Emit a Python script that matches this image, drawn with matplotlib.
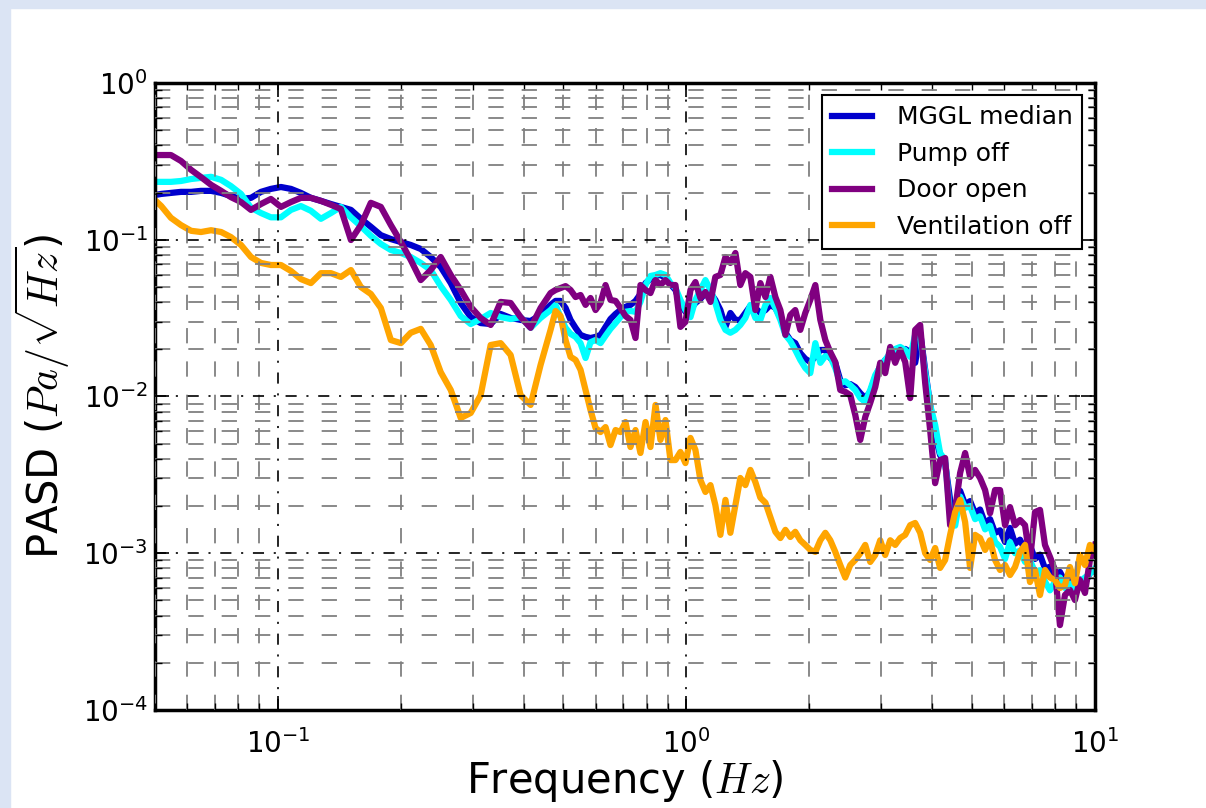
import matplotlib.pyplot as plt
from matplotlib.patches import Rectangle
from matplotlib.ticker import NullFormatter

# frequency bins (Hz)
freq = [0.05, 0.0518, 0.0547, 0.0579, 0.0613, 0.0648, 0.0686, 0.0726, 0.0767, 0.0812,
        0.0859, 0.0909, 0.0961, 0.1017, 0.1076, 0.1138, 0.1204, 0.1274, 0.1348, 0.1426,
        0.1509, 0.1596, 0.1688, 0.1786, 0.1890, 0.2000, 0.2114, 0.2237, 0.2366, 0.2503,
        0.2649, 0.2802, 0.2964, 0.3135, 0.3317, 0.3509, 0.3712, 0.3927, 0.4154, 0.4395,
        0.4649, 0.4782, 0.4918, 0.5060, 0.5203, 0.5353, 0.5505, 0.5663, 0.5823, 0.5991,
        0.6161, 0.6338, 0.6517, 0.6706, 0.6895, 0.7094, 0.7294, 0.7505, 0.7717, 0.7940,
        0.8164, 0.8400, 0.8637, 0.8886, 0.9138, 0.9400, 0.9667, 0.9944, 1.023, 1.052,
        1.082, 1.113, 1.145, 1.177, 1.211, 1.246, 1.281, 1.318, 1.355, 1.394,
        1.434, 1.475, 1.517, 1.561, 1.605, 1.651, 1.698, 1.747, 1.796, 1.847,
        1.900, 1.954, 2.010, 2.068, 2.127, 2.188, 2.250, 2.314, 2.380, 2.448,
        2.518, 2.590, 2.664, 2.740, 2.818, 2.899, 2.981, 3.066, 3.154, 3.244,
        3.336, 3.432, 3.530, 3.630, 3.734, 3.841, 3.950, 4.063, 4.178, 4.298,
        4.421, 4.548, 4.677, 4.811, 4.948, 5.089, 5.234, 5.384, 5.537, 5.695,
        5.858, 6.025, 6.197, 6.374, 6.556, 6.743, 6.935, 7.133, 7.337, 7.546,
        7.762, 7.983, 8.211, 8.445, 8.687, 8.934, 9.190, 9.454, 9.723, 10.0]

# PASD values (Pa/sqrt(Hz))
mggl_median = [0.193, 0.196, 0.199, 0.202, 0.202, 0.205, 0.205, 0.199, 0.190, 0.182,
               0.185, 0.202, 0.211, 0.217, 0.211, 0.199, 0.185, 0.177, 0.169, 0.162,
               0.155, 0.136, 0.121, 0.107, 0.101, 0.0967, 0.0926, 0.0873, 0.0776, 0.0670,
               0.0529, 0.0395, 0.0321, 0.0294, 0.0290, 0.0336, 0.0317, 0.0308, 0.0303, 0.0331,
               0.0384, 0.0407, 0.0407, 0.0367, 0.0308, 0.0274, 0.0247, 0.0240, 0.0236, 0.0240,
               0.0247, 0.0278, 0.0312, 0.0336, 0.0356, 0.0373, 0.0384, 0.0407, 0.0451, 0.0529,
               0.0561, 0.0587, 0.0596, 0.0570, 0.0521, 0.0478, 0.0390, 0.0347, 0.0362, 0.0395,
               0.0419, 0.0457, 0.0457, 0.0413, 0.0356, 0.0278, 0.0341, 0.0308, 0.0308, 0.0341,
               0.0378, 0.0367, 0.0341, 0.0356, 0.0384, 0.0367, 0.0321, 0.0255, 0.0229, 0.0219,
               0.0189, 0.0174, 0.0166, 0.0179, 0.0198, 0.0198, 0.0176, 0.0164, 0.0127, 0.0118,
               0.0120, 0.0115, 0.0105, 0.00978, 0.0107, 0.0133, 0.0155, 0.0171, 0.0181, 0.0189,
               0.0195, 0.0201, 0.0192, 0.0164, 0.0255, 0.0148, 0.00883, 0.00568, 0.00423, 0.00376,
               0.00219, 0.00186, 0.00250, 0.00205, 0.00215, 0.00180, 0.00190, 0.00155, 0.00165, 0.00135,
               0.00140, 0.00118, 0.00145, 0.00115, 0.00122, 0.00105, 0.00112, 0.00092, 0.00098, 0.00080,
               0.00082, 0.00072, 0.00076, 0.00066, 0.00071, 0.00062, 0.00068, 0.00064, 0.00075, 0.00078]

pump_off = [0.234, 0.234, 0.234, 0.237, 0.244, 0.248, 0.252, 0.241, 0.220, 0.196,
            0.160, 0.148, 0.139, 0.139, 0.155, 0.164, 0.153, 0.136, 0.148, 0.162,
            0.139, 0.122, 0.106, 0.094, 0.0860, 0.0823, 0.0776, 0.0711, 0.0641, 0.0506,
            0.0413, 0.0326, 0.0290, 0.0312, 0.0341, 0.0321, 0.0312, 0.0321, 0.0274, 0.0317,
            0.0356, 0.0384, 0.0321, 0.0274, 0.0251, 0.0240, 0.0219, 0.0176, 0.0222, 0.0229,
            0.0219, 0.0244, 0.0270, 0.0294, 0.0321, 0.0347, 0.0351, 0.0347, 0.0401, 0.0514,
            0.0587, 0.0596, 0.0612, 0.0596, 0.0529, 0.0492, 0.0413, 0.0356, 0.0321, 0.0413,
            0.0478, 0.0553, 0.0478, 0.0395, 0.0308, 0.0266, 0.0255, 0.0266, 0.0286, 0.0317,
            0.0384, 0.0317, 0.0308, 0.0384, 0.0425, 0.0367, 0.0308, 0.0247, 0.0226, 0.0198,
            0.0171, 0.0152, 0.0141, 0.0219, 0.0164, 0.0181, 0.0179, 0.0152, 0.0122, 0.0125,
            0.0118, 0.0110, 0.00978, 0.00922, 0.0110, 0.0137, 0.0155, 0.0171, 0.0189, 0.0201,
            0.0207, 0.0198, 0.0179, 0.0247, 0.0236, 0.0143, 0.00883, 0.00658, 0.00436, 0.00393,
            0.00175, 0.00150, 0.00230, 0.00195, 0.00200, 0.00165, 0.00172, 0.00142, 0.00150, 0.00118,
            0.00110, 0.00092, 0.00118, 0.00100, 0.00104, 0.00088, 0.00090, 0.00076, 0.00078, 0.00066,
            0.00058, 0.00066, 0.00070, 0.00060, 0.00064, 0.00056, 0.00066, 0.00070, 0.00074, 0.00080]

door_open = [0.347, 0.347, 0.347, 0.318, 0.279, 0.251, 0.224, 0.205, 0.187, 0.174,
             0.155, 0.169, 0.182, 0.162, 0.174, 0.185, 0.185, 0.177, 0.167, 0.157,
             0.0996, 0.124, 0.172, 0.162, 0.124, 0.0967, 0.0743, 0.0553, 0.0641, 0.0776,
             0.0596, 0.0478, 0.0373, 0.0317, 0.0286, 0.0401, 0.0395, 0.0321, 0.0274, 0.0367,
             0.0457, 0.0478, 0.0492, 0.0506, 0.0478, 0.0431, 0.0444, 0.0384, 0.0425, 0.0356,
             0.0395, 0.0514, 0.0413, 0.0407, 0.0367, 0.0326, 0.0308, 0.0236, 0.0514, 0.0478,
             0.0457, 0.0553, 0.0514, 0.0553, 0.0514, 0.0514, 0.0278, 0.0299, 0.0478, 0.0537,
             0.0425, 0.0464, 0.0401, 0.0579, 0.0596, 0.0776, 0.0711, 0.0823, 0.0514, 0.0612,
             0.0579, 0.0356, 0.0529, 0.0431, 0.0579, 0.0431, 0.0356, 0.0247, 0.0331, 0.0356,
             0.0266, 0.0341, 0.0413, 0.0514, 0.0308, 0.0229, 0.0192, 0.0166, 0.0110, 0.0107,
             0.0102, 0.00762, 0.00528, 0.00740, 0.00910, 0.0115, 0.0164, 0.0141, 0.0207, 0.0164,
             0.0198, 0.0166, 0.00977, 0.0266, 0.0286, 0.0122, 0.00611, 0.00280, 0.00393, 0.00405,
             0.00151, 0.00189, 0.00325, 0.00436, 0.00307, 0.00340, 0.00302, 0.00253, 0.00180, 0.00253,
             0.00253, 0.00151, 0.00197, 0.00151, 0.00163, 0.00151, 0.000906, 0.00183, 0.00189, 0.00113,
             0.000947, 0.000782, 0.000348, 0.000541, 0.000583, 0.000503, 0.000675, 0.000558, 0.000906, 0.00113]

vent_off = [0.179, 0.164, 0.138, 0.124, 0.114, 0.112, 0.115, 0.112, 0.104, 0.0926,
            0.0776, 0.0711, 0.0690, 0.0690, 0.0632, 0.0561, 0.0529, 0.0612, 0.0612, 0.0579,
            0.0641, 0.0499, 0.0451, 0.0367, 0.0229, 0.0219, 0.0255, 0.0270, 0.0213, 0.0143,
            0.0110, 0.00729, 0.00785, 0.0102, 0.0213, 0.0219, 0.0184, 0.0102, 0.00883, 0.0159,
            0.0266, 0.0351, 0.0326, 0.0229, 0.0179, 0.0171, 0.0148, 0.0110, 0.00820, 0.00630,
            0.00593, 0.00638, 0.00490, 0.00611, 0.00593, 0.00687, 0.00476, 0.00611, 0.00436, 0.00687,
            0.00476, 0.00883, 0.00528, 0.00708, 0.00393, 0.00393, 0.00443, 0.00376, 0.00544, 0.00456,
            0.00293, 0.00246, 0.00272, 0.00203, 0.00131, 0.00219, 0.00135, 0.00203, 0.00302, 0.00272,
            0.00340, 0.00284, 0.00226, 0.00210, 0.00170, 0.00137, 0.00125, 0.00141, 0.00127, 0.00137,
            0.00121, 0.00113, 0.00105, 0.00102, 0.00121, 0.00135, 0.00121, 0.00102, 0.000841, 0.000700,
            0.000841, 0.000906, 0.00100, 0.00113, 0.000880, 0.000975, 0.00121, 0.000975, 0.00121, 0.00113,
            0.00125, 0.00131, 0.00151, 0.00156, 0.00135, 0.00100, 0.000906, 0.00108, 0.000806, 0.000906,
            0.00131, 0.00183, 0.00219, 0.00158, 0.000806, 0.00131, 0.00125, 0.00105, 0.00121, 0.000906,
            0.000782, 0.000841, 0.000726, 0.000817, 0.00102, 0.00113, 0.000655, 0.000782, 0.000541, 0.000782,
            0.000700, 0.000675, 0.000600, 0.000627, 0.000817, 0.000644, 0.000975, 0.000841, 0.00113, 0.00105]

plt.rcParams['mathtext.fontset'] = 'cm'
plt.rcParams['lines.scale_dashes'] = False
plt.rcParams['axes.unicode_minus'] = False

fig = plt.figure(figsize=(12.06, 8.08), dpi=100)
# light blue frame of the original screenshot
fig.add_artist(Rectangle((0, 0), 10 / 1206, 1, transform=fig.transFigure,
                         color='#dbe4f4', zorder=0))
fig.add_artist(Rectangle((0, 1 - 8 / 808), 1, 8 / 808, transform=fig.transFigure,
                         color='#dbe4f4', zorder=0))

ax = fig.add_axes([0.1285, 0.1213, 0.7794, 0.7760])
lw = 4.5
ax.loglog(freq, mggl_median, color='#0000cd', lw=lw, label='MGGL median')
ax.loglog(freq, pump_off, color='#00ffff', lw=lw, label='Pump off')
ax.loglog(freq, door_open, color='#800080', lw=lw, label='Door open')
ax.loglog(freq, vent_off, color='#ffa500', lw=lw, label='Ventilation off')

ax.set_xlim(0.05, 10)
ax.set_ylim(1e-4, 1)

# grid drawn over the curves, as in the old default style
ax.set_axisbelow(False)
ax.grid(which='major', color='black', linestyle=(0, (8, 7, 1.5, 7)), lw=1.2)
ax.grid(which='minor', color='#808080', linestyle=(0, (11, 13)), lw=1.3)

ax.xaxis.set_minor_formatter(NullFormatter())
ax.yaxis.set_minor_formatter(NullFormatter())
ax.tick_params(which='both', direction='in', top=True, right=True, labelsize=20)
ax.tick_params(which='major', length=10, width=1.2)
ax.tick_params(which='minor', length=5, width=1)
ax.tick_params(axis='x', pad=14)
ax.tick_params(axis='y', pad=5)
for s in ax.spines.values():
    s.set_linewidth(2.5)

ax.set_xlabel(r'Frequency ($Hz$)', fontsize=30)
ax.set_ylabel(r'PASD ($Pa/\sqrt{Hz}$)', fontsize=30)
ax.xaxis.set_label_coords(0.5, -0.076)
ax.yaxis.set_label_coords(-0.088, 0.5)

leg = ax.legend(loc='upper right', fontsize=18, fancybox=False, framealpha=1,
                edgecolor='black', handlelength=1.6, handletextpad=1.0,
                labelspacing=0.5, borderaxespad=0.5)
leg.get_frame().set_linewidth(1.5)

fig.savefig('out.png', dpi=100)
